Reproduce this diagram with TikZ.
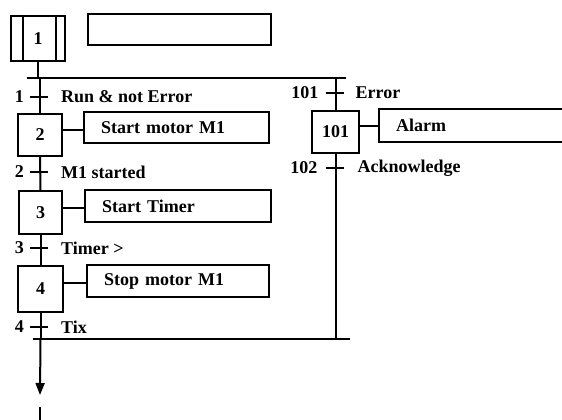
\documentclass[tikz,border=0pt]{standalone}
\usepackage{fontspec}
\setmainfont{Liberation Serif}
\usetikzlibrary{arrows.meta}
\begin{document}
\begin{tikzpicture}[x=1pt,y=-1pt,
  every node/.style={font=\fontsize{18}{21}\selectfont\bfseries},
  stepbox/.style={draw,line width=2pt,inner sep=0pt,anchor=north west},
  actbox/.style={draw,line width=2.2pt,inner xsep=17pt,inner ysep=0pt,align=left,anchor=north west},
  flow/.style={line width=2pt},
  bar/.style={line width=2.8pt},
  tick/.style={line width=2pt},
  tnum/.style={anchor=east,inner sep=0pt},
  tcond/.style={anchor=west,inner sep=0pt}]
\useasboundingbox (0,0) rectangle (562,420);

% initial step
\node[stepbox,minimum width=54pt,minimum height=45pt] (s1) at (10,15) {1};
\draw[flow] ([xshift=13pt]s1.north west) -- ([xshift=13pt]s1.south west);
\draw[flow] ([xshift=-10pt]s1.north east) -- ([xshift=-10pt]s1.south east);
\node[actbox,text width=149pt,minimum height=31pt] (a1) at (87,13) {};

% divergence / convergence bars
\coordinate (dl) at (27,78);
\coordinate (dr) at (346,78);
\coordinate (cl) at (33,339);
\coordinate (cr) at (350,339);
\draw[bar] (dl) -- (dr);
\draw[bar] (cl) -- (cr);

% steps main branch
\node[stepbox,minimum width=44pt,minimum height=42pt] (s2) at (17,113) {2};
\node[actbox,text width=151pt,minimum height=31pt] (a2) at (83,111) {Start motor M1};
\node[stepbox,minimum width=43pt,minimum height=43pt] (s3) at (18,190) {3};
\node[actbox,text width=152pt,minimum height=32pt] (a3) at (84,189) {Start Timer};
\node[stepbox,minimum width=45pt,minimum height=46pt] (s4) at (17,265) {4};
\node[actbox,text width=148pt,minimum height=32pt] (a4) at (86,264) {Stop motor M1};

\draw[flow] (s1.south) -- (s1.south |- dl);
\draw[flow] (s2.north |- dl) -- (s2.north);
\draw[flow] (s2.south) -- (s3.north);
\draw[flow] (s3.south) -- (s4.north);
\draw[flow] (s4.south) -- (s4.south |- cl);

\draw[flow] (s2.east |- 0,130) -- (a2.west |- 0,130);
\draw[flow] (s3.east |- 0,208) -- (a3.west |- 0,208);
\draw[flow] (s4.east |- 0,283) -- (a4.west |- 0,283);

% transitions main branch
\coordinate (t1) at (39,97);
\coordinate (t2) at (39,172);
\coordinate (t3) at (39,248);
\coordinate (t4) at (39,327);
\foreach \t/\n/\c in {t1/1/{Run \& not Error},t2/2/{M1 started},t3/3/{Timer >},t4/4/{Tix}}{
  \draw[tick] ([xshift=-9pt]\t) -- ([xshift=9pt]\t);
  \node[tnum] at ([xshift=-15pt]\t) {\n};
  \node[tcond] at ([xshift=22pt]\t) {\c};
}

% exit arrow
\coordinate (e1) at (40,395);
\coordinate (e2) at (40,407);
\coordinate (e3) at (40,420);
\draw[flow,-{Triangle[width=9pt,length=12pt]}] (s4.south |- cl) -- (e1);
\draw[flow] (e2) -- (e3);

% error branch
\node[stepbox,minimum width=47pt,minimum height=42pt] (s101) at (311,110) {101};
\node[actbox,text width=154pt,minimum height=33pt] (a101) at (378,108) {Alarm};
\draw[flow] (s101.north |- dr) -- (s101.north);
\draw[flow] (s101.south) -- (s101.south |- cr);
\draw[flow] (s101.east |- 0,126) -- (a101.west |- 0,126);

\coordinate (t101) at (334.5,93);
\coordinate (t102) at (334.5,168);
\draw[tick] ([xshift=-9pt]t101) -- ([xshift=9pt]t101);
\node[tnum] at ([xshift=-16pt]t101) {101};
\node[tcond] at ([xshift=21pt]t101) {Error};
\draw[tick] ([xshift=-9pt]t102) -- ([xshift=9pt]t102);
\node[tnum] at ([xshift=-17pt]t102) {102};
\node[tcond] at ([xshift=23pt]t102) {Acknowledge};
\end{tikzpicture}
\end{document}
